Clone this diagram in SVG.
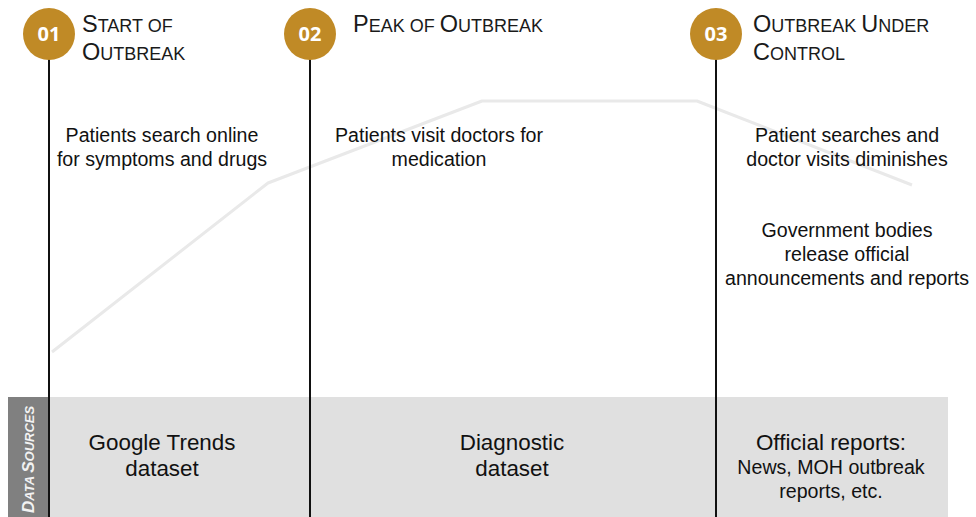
<svg xmlns="http://www.w3.org/2000/svg" width="976" height="517" viewBox="0 0 976 517">
  <style>
    .body { font-family: "Liberation Sans", Arial, sans-serif; font-size: 19.6px; fill: #111; text-anchor: middle; }
    .band { font-family: "Liberation Sans", Arial, sans-serif; font-size: 22.4px; fill: #111; text-anchor: middle; }
    .title { font-family: "Liberation Sans", Arial, sans-serif; fill: #1a1a1a; }
    .big { font-size: 23.5px; }
    .sm { font-size: 18px; }
    .num { font-family: "Open Sans", "Liberation Sans", sans-serif; font-weight: bold; font-size: 20px; fill: #fff; text-anchor: middle; }
    .dot { fill: #C08A26; }
    .stem { stroke: #111; stroke-width: 2; fill: none; }
    .trend { stroke: #e9e9e9; stroke-width: 3; fill: none; stroke-linejoin: round; }
  </style>

  <rect width="976" height="517" fill="#fff"/>

  <!-- data sources band -->
  <g id="data-sources">
    <rect x="8" y="397" width="940" height="120" fill="#e0e0e0"/>
    <rect x="8" y="397" width="41" height="120" fill="#808080"/>
    <text transform="translate(34,513) rotate(-90)" font-family="Liberation Sans, Arial, sans-serif" font-style="italic" font-weight="bold" fill="#f2f2f2"><tspan font-size="17">D</tspan><tspan font-size="13">ATA </tspan><tspan font-size="17">S</tspan><tspan font-size="13">OURCES</tspan></text>
  </g>

  <!-- outbreak trend curve -->
  <polyline class="trend" points="52,352 268,183 482,101 697,101 912,185"/>

  <g id="connectors">
    <line class="stem" x1="49" y1="58" x2="49" y2="517"/>
    <line class="stem" x1="310" y1="58" x2="310" y2="517"/>
    <line class="stem" x1="716" y1="58" x2="716" y2="517"/>
  </g>

  <g id="stage-01">
    <circle class="dot" cx="49" cy="34" r="26"/>
    <text class="num" x="49" y="41">01</text>
    <text class="title" x="82" y="32"><tspan class="big">S</tspan><tspan class="sm">TART OF</tspan></text>
    <text class="title" x="82" y="60"><tspan class="big">O</tspan><tspan class="sm">UTBREAK</tspan></text>
    <text class="body" x="162" y="142">Patients search online</text>
    <text class="body" x="162" y="166">for symptoms and drugs</text>
  </g>

  <g id="stage-02">
    <circle class="dot" cx="310" cy="34" r="26"/>
    <text class="num" x="310" y="41">02</text>
    <text class="title" x="353" y="32"><tspan class="big">P</tspan><tspan class="sm">EAK OF </tspan><tspan class="big">O</tspan><tspan class="sm">UTBREAK</tspan></text>
    <text class="body" x="439" y="142">Patients visit doctors for</text>
    <text class="body" x="439" y="166">medication</text>
  </g>

  <g id="stage-03">
    <circle class="dot" cx="716" cy="34" r="26"/>
    <text class="num" x="716" y="41">03</text>
    <text class="title" x="753" y="32"><tspan class="big">O</tspan><tspan class="sm">UTBREAK </tspan><tspan class="big">U</tspan><tspan class="sm">NDER</tspan></text>
    <text class="title" x="753" y="60"><tspan class="big">C</tspan><tspan class="sm">ONTROL</tspan></text>
    <text class="body" x="847" y="142">Patient searches and</text>
    <text class="body" x="847" y="166">doctor visits diminishes</text>
    <text class="body" x="847" y="237">Government bodies</text>
    <text class="body" x="847" y="261">release official</text>
    <text class="body" x="847" y="285">announcements and reports</text>
  </g>

  <g id="source-google">
    <text class="band" x="162" y="450">Google Trends</text>
    <text class="band" x="162" y="476">dataset</text>
  </g>
  <g id="source-diagnostic">
    <text class="band" x="512" y="450">Diagnostic</text>
    <text class="band" x="512" y="476">dataset</text>
  </g>
  <g id="source-official">
    <text class="band" x="831" y="450">Official reports:</text>
    <text class="body" x="831" y="474">News, MOH outbreak</text>
    <text class="body" x="831" y="498">reports, etc.</text>
  </g>
</svg>
